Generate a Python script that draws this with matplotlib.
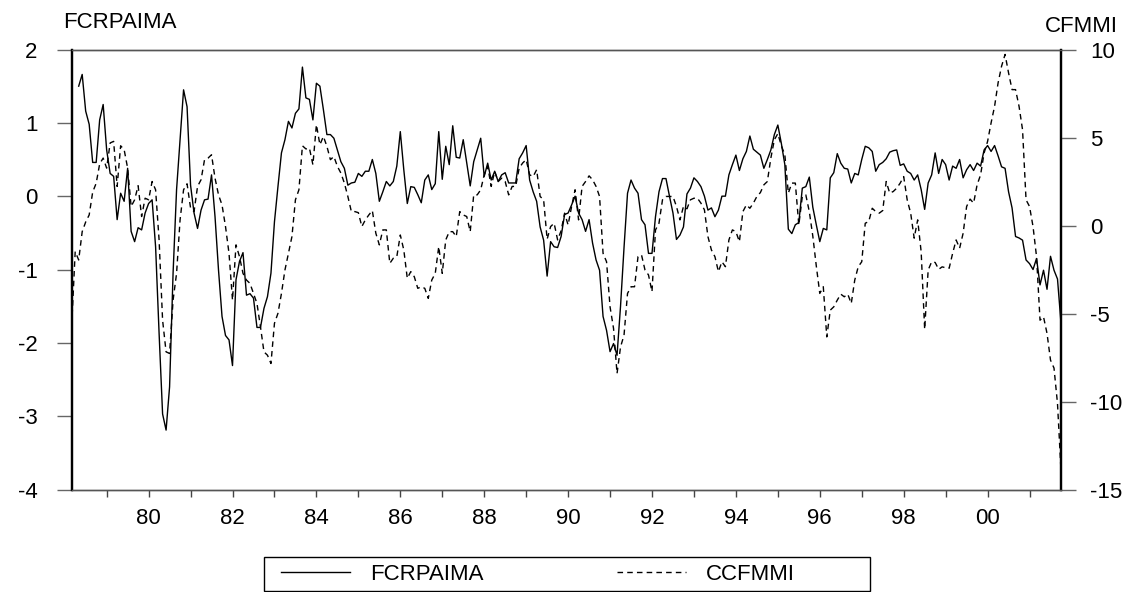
import numpy as np
import matplotlib
matplotlib.use("Agg")
import matplotlib.pyplot as plt
from matplotlib.patches import Rectangle
from matplotlib.lines import Line2D

plt.rcParams['font.family'] = ['Liberation Sans', 'DejaVu Sans']

start_year = 1978
start_month = 3
nan = np.nan

fcrpaima = [
    nan, nan, 1.50, 1.66, 1.16, 0.98, 0.46, 0.46, 1.04, 1.25, 0.63, 0.31,
    0.27, -0.32, 0.04, -0.07, 0.38, -0.48, -0.62, -0.43, -0.46, -0.23, -0.10, -0.05,
    -0.69, -1.87, -2.97, -3.19, -2.60, -1.05, 0.09, 0.77, 1.45, 1.22, 0.15, -0.23,
    -0.44, -0.19, -0.05, -0.04, 0.29, -0.28, -1.01, -1.64, -1.90, -1.96, -2.31, -1.14,
    -0.89, -0.77, -1.35, -1.33, -1.39, -1.79, -1.79, -1.53, -1.37, -1.05, -0.35, 0.13,
    0.59, 0.77, 1.02, 0.93, 1.13, 1.19, 1.76, 1.34, 1.32, 1.04, 1.54, 1.50,
    1.18, 0.84, 0.84, 0.79, 0.63, 0.47, 0.38, 0.15, 0.18, 0.19, 0.31, 0.27,
    0.34, 0.34, 0.50, 0.31, -0.07, 0.06, 0.20, 0.14, 0.20, 0.41, 0.88, 0.36,
    -0.10, 0.13, 0.12, 0.02, -0.09, 0.22, 0.29, 0.09, 0.17, 0.88, 0.23, 0.68,
    0.43, 0.96, 0.53, 0.52, 0.77, 0.45, 0.14, 0.47, 0.63, 0.79, 0.27, 0.45,
    0.22, 0.34, 0.20, 0.29, 0.32, 0.18, 0.18, 0.18, 0.51, 0.59, 0.69, 0.22,
    0.06, -0.07, -0.42, -0.60, -1.09, -0.62, -0.69, -0.70, -0.55, -0.25, -0.23, -0.12,
    0.00, -0.23, -0.32, -0.48, -0.32, -0.64, -0.87, -1.01, -1.64, -1.83, -2.12, -2.01,
    -2.17, -1.50, -0.70, 0.04, 0.22, 0.11, 0.04, -0.32, -0.39, -0.78, -0.78, -0.28,
    0.06, 0.24, 0.24, 0.00, -0.23, -0.59, -0.53, -0.42, 0.03, 0.11, 0.25, 0.20,
    0.13, 0.00, -0.19, -0.16, -0.28, -0.19, 0.00, 0.00, 0.29, 0.43, 0.56, 0.35,
    0.51, 0.61, 0.82, 0.64, 0.60, 0.56, 0.38, 0.50, 0.63, 0.84, 0.97, 0.72,
    0.43, -0.45, -0.51, -0.39, -0.36, 0.11, 0.13, 0.26, -0.15, -0.39, -0.62, -0.44,
    -0.46, 0.25, 0.32, 0.58, 0.45, 0.38, 0.37, 0.18, 0.31, 0.29, 0.50, 0.68,
    0.66, 0.61, 0.34, 0.43, 0.46, 0.51, 0.60, 0.62, 0.63, 0.42, 0.44, 0.34,
    0.31, 0.22, 0.29, 0.09, -0.18, 0.18, 0.29, 0.59, 0.31, 0.50, 0.43, 0.22,
    0.41, 0.38, 0.50, 0.25, 0.36, 0.43, 0.35, 0.45, 0.41, 0.63, 0.69, 0.61,
    0.69, 0.55, 0.40, 0.38, 0.06, -0.16, -0.55, -0.57, -0.60, -0.87, -0.92, -1.00,
    -0.85, -1.21, -1.01, -1.27, -0.82, -1.01, -1.13, -1.73,
]

ccfmmi = [
    -5.66, -1.48, -1.96, -0.35, 0.20, 0.60, 1.90, 2.40, 3.50, 3.83, 3.26, 4.69,
    4.78, 2.22, 4.53, 4.31, 3.26, 1.08, 1.46, 2.26, 0.51, 1.55, 1.46, 2.50,
    2.03, -0.82, -5.38, -7.18, -7.27, -4.24, -2.72, 0.32, 2.03, 2.37, 1.00, 0.79,
    2.22, 2.60, 3.74, 3.83, 4.02, 2.69, 1.74, 1.17, -0.06, -1.58, -4.24, -1.10,
    -1.77, -2.72, -3.10, -3.29, -3.86, -4.43, -5.76, -7.18, -7.37, -7.84, -5.56, -4.99,
    -3.86, -2.53, -1.58, -0.63, 1.46, 2.03, 4.53, 4.35, 4.40, 3.45, 5.73, 4.59,
    5.06, 4.50, 3.74, 3.92, 3.36, 2.98, 2.41, 1.65, 0.79, 0.79, 0.73, -0.06,
    0.32, 0.60, 0.85, -0.44, -1.10, -0.25, -0.25, -2.15, -1.86, -1.77, -0.54, -1.39,
    -3.00, -2.62, -2.91, -3.57, -3.48, -3.57, -4.14, -3.10, -2.72, -1.20, -2.72, -0.82,
    -0.35, -0.35, -0.63, 0.79, 0.60, 0.51, -0.35, 1.74, 1.74, 2.03, 2.88, 3.36,
    2.22, 3.07, 2.50, 2.69, 2.50, 1.74, 2.22, 2.22, 3.26, 3.55, 3.74, 2.88,
    2.78, 3.17, 1.65, 1.46, -0.78, -0.06, 0.13, -0.82, -0.30, 0.70, 0.03, 1.08,
    2.03, 0.32, 2.22, 2.50, 2.82, 2.60, 2.22, 1.65, -1.58, -2.06, -4.62, -5.85,
    -8.41, -6.90, -6.23, -3.86, -3.48, -3.48, -1.77, -1.67, -2.53, -2.81, -3.76, -0.25,
    0.13, 1.46, 1.65, 1.65, 1.65, 1.08, 0.32, 1.08, 0.95, 1.46, 1.55, 1.55,
    1.27, 0.89, -0.63, -1.39, -1.77, -2.62, -2.06, -2.34, -0.82, -0.25, -0.35, -0.92,
    0.79, 1.17, 0.98, 1.27, 1.65, 1.87, 2.31, 2.50, 3.83, 4.87, 5.22, 4.53,
    4.02, 1.84, 2.41, 2.41, 0.03, 1.65, 1.74, 0.79, -0.60, -2.30, -3.86, -3.48,
    -6.33, -4.81, -4.62, -4.24, -3.90, -4.05, -3.90, -4.43, -3.10, -2.34, -2.06, 0.13,
    0.22, 0.98, 0.79, 0.70, 0.85, 2.50, 1.84, 1.93, 2.12, 2.41, 2.78, 1.46,
    0.70, -0.72, 0.32, -1.50, -5.90, -2.53, -2.06, -2.10, -2.49, -2.35, -2.40, -2.43,
    -1.58, -0.82, -1.29, -0.44, 1.08, 1.50, 1.27, 2.31, 2.88, 4.12, 4.78, 5.83,
    6.77, 8.10, 9.05, 9.72, 8.67, 7.72, 7.72, 6.77, 5.44, 1.46, 1.08, -0.06,
    -1.77, -5.38, -5.19, -6.13, -7.65, -8.10, -10.12, -13.92,
]

left_ticks = [-4, -3, -2, -1, 0, 1, 2]
right_ticks = [-15, -10, -5, 0, 5, 10]
tick_years = list(range(1979, 2002))
label_years = list(range(1980, 2001, 2))

n = len(ccfmmi)
t = start_year + (start_month - 1 + np.arange(n)) / 12.0

W, H = 1129, 592
fig = plt.figure(figsize=(W / 100, H / 100), dpi=100)
x0, x1, y0, y1 = 71.7, 1061.0, 49.5, 489.5
ax = fig.add_axes([x0 / W, 1 - y1 / H, (x1 - x0) / W, (y1 - y0) / H])
ax2 = ax.twinx()

ax.plot(t, fcrpaima, color='black', lw=1.0)
ax2.plot(t, ccfmmi, color='black', lw=1.0, linestyle=(0, (4, 3)))

ax.set_xlim(t[0], t[-1])
ax.set_ylim(-4, 2)
ax2.set_ylim(-15, 10)
ax.set_yticks(left_ticks)
ax.set_yticklabels([str(v) for v in left_ticks])
ax2.set_yticks(right_ticks)
ax2.set_yticklabels([str(v) for v in right_ticks])

ax.set_xticks(tick_years)
ax.set_xticklabels([('%02d' % (y % 100)) if y in label_years else '' for y in tick_years])

fs = 16
ax.tick_params(axis='x', direction='out', length=5, width=1, color='#444444',
               labelsize=fs, pad=8)
ax.tick_params(axis='y', direction='out', length=10.5, width=1, color='#666666',
               labelsize=fs, pad=14)
ax2.tick_params(axis='y', direction='out', length=11, width=1, color='#666666',
                labelsize=fs, pad=10)

for a in (ax, ax2):
    a.spines['top'].set_color('#555555')
    a.spines['top'].set_linewidth(1.0)
    a.spines['bottom'].set_color('#555555')
    a.spines['bottom'].set_linewidth(1.0)
    a.spines['left'].set_color('black')
    a.spines['left'].set_linewidth(1.6)
    a.spines['right'].set_color('black')
    a.spines['right'].set_linewidth(1.6)

fig.text(63 / W, 1 - 28 / H, 'FCRPAIMA', fontsize=fs, ha='left', va='baseline')
fig.text(1118 / W, 1 - 32 / H, 'CFMMI', fontsize=fs, ha='right', va='baseline')

# legend box
lx0, lx1, ly0, ly1 = 264, 870, 557, 591
fig.patches.append(Rectangle((lx0 / W, 1 - ly1 / H), (lx1 - lx0) / W, (ly1 - ly0) / H,
                             transform=fig.transFigure, fill=False, edgecolor='black', lw=1.0))
handles = [Line2D([], [], color='black', lw=1.0),
           Line2D([], [], color='black', lw=1.0, linestyle=(0, (4, 3)))]
fig.legend(handles, ['FCRPAIMA', 'CCFMMI'], loc='center left',
           bbox_to_anchor=(281 / W - 0.0, 1 - 574 / H), ncol=2, frameon=False,
           fontsize=fs, handlelength=3.1, handletextpad=0.9, columnspacing=6.0,
           borderpad=0.0, borderaxespad=0.0)

fig.savefig('out.png', dpi=100)
